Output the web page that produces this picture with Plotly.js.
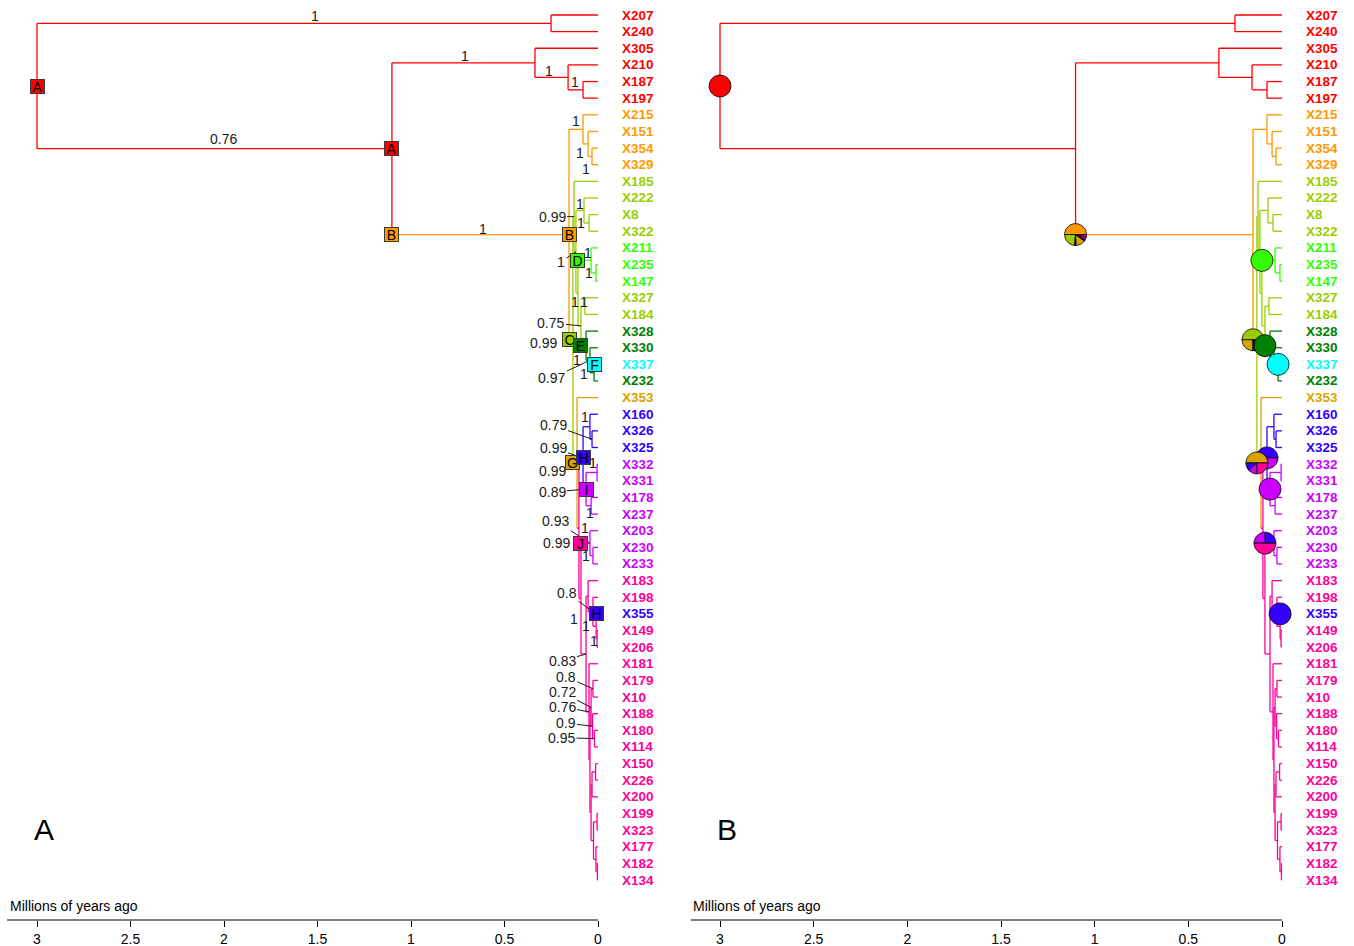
<!DOCTYPE html>
<html><head><meta charset="utf-8">
<script src="https://cdn.plot.ly/plotly-3.0.1.min.js"></script>
<style>html,body{margin:0;padding:0;background:#fff;} #chart{width:1354px;height:946px;}</style>
</head><body><div id="chart"></div>
<script>
// ================= DATA =================
const tipLabels = ['X207','X240','X305','X210','X187','X197','X215','X151','X354','X329','X185','X222','X8','X322','X211','X235','X147','X327','X184','X328','X330','X337','X232','X353','X160','X326','X325','X332','X331','X178','X237','X203','X230','X233','X183','X198','X355','X149','X206','X181','X179','X10','X188','X180','X114','X150','X226','X200','X199','X323','X177','X182','X134'];
const tipStates = ['A','A','A','A','A','A','B','B','B','B','C','C','C','C','D','D','D','C','C','E','E','F','E','G','H','H','H','I','I','I','I','I','I','I','J','J','H','J','J','J','J','J','J','J','J','J','J','J','J','J','J','J','J'];
const tipParents = ['n207','n207','nRed','nRed2','nRed3','nRed3','nOr','nOr2','nOr3','nOr3','nYG','nYc1','nYc1b','nYc1b','nD','nDb','nDb','nYc2','nYc2','nE','nE2','nF','nF','nG','nBl','nBl2','nBl2','nP1a','nP1a','nP1b','nP1b','nPu','nPu2','nPu2','nPa','nPa1','nPa2','nPa3','nPa3','nPb','nQ1a','nQ1a','nQ1b','nQ1c','nQ1c','nR1a','nR1a','nR1','nR2a','nR2a','nR2b','nR2c','nR2c'];

const nodeNames   = ['root','n207','n2','nRed','nRed2','nRed3','nB','nOr','nOr2','nOr3','nC','nYG','nY1','nYc1','nYc1b','nY2','nD','nDb','nY3','nYc2','nE','nE2','nF','nG','nK','nH','nBl','nBl2','nP1','nP1a','nP1b','nL','nPu','nPu2','nP0','nPa','nPa1','nPa2','nPa3','nPb','nPb1','nQ1','nQ1a','nQ1b','nQ1c','nR','nR1','nR1a','nR2','nR2a','nR2b','nR2c'];
const nodeParents = [null,'root','root','n2','nRed','nRed2','n2','nB','nOr','nOr2','nB','nC','nYG','nY1','nYc1','nY1','nY2','nD','nY2','nY3','nY3','nE','nE2','nC','nG','nK','nH','nBl','nH','nP1','nP1','nK','nL','nPu','nL','nP0','nPa','nPa1','nPa2','nP0','nPb','nPb1','nQ1','nQ1','nQ1b','nPb1','nR','nR1','nR','nR2','nR2','nR2b'];
const nodeAges    = [3.000,0.251,1.102,0.337,0.160,0.080,0.155,0.080,0.053,0.032,0.134,0.128,0.118,0.075,0.048,0.107,0.037,0.011,0.091,0.070,0.064,0.043,0.021,0.112,0.102,0.080,0.043,0.032,0.064,0.005,0.037,0.091,0.043,0.027,0.064,0.053,0.027,0.010,0.005,0.048,0.043,0.037,0.027,0.029,0.019,0.037,0.032,0.013,0.024,0.005,0.011,0.003];
const nodeStates  = ['A','A','A','A','A','A','B','B','B','B','C','C','C','C','C','C','D','D','C','C','E','E','E','G','J','H','H','H','I','I','I','J','I','I','J','J','J','J','J','J','J','J','J','J','J','J','J','J','J','J','J','J'];

const stateLetters = ['A','B','C','D','E','F','G','H','I','J'];
const stateColors  = ['#FF0000','#FF9900','#9ACD00','#33FF00','#007F00','#00FFFF','#D9A400','#3300FF','#CC00FF','#FF0099'];

// posterior support values
const supportNodes  = ['n207','n2','nRed','nRed2','nRed3','nB','nOr','nOr2','nOr3','nYG','nYc1','nYc1b','nY1','nD','nDb','nY2','nYc2','nY3','nC','nE','nE2','nF','nBl','nBl2','nH','nG','nP1a','nP1','nP1b','nPu','nPu','nK','nPu2','nPa1','nL','nPa2','nPa3','nP0','nQ1a','nQ1','nPb','nQ1b','nQ1c'];
const supportValues = ['1','0.76','1','1','1','1','1','1','1','0.99','1','1','1','1','1','1','1','0.75','0.99','1','0.97','1','1','0.79','0.99','0.99','1','0.89','1','1','0.93','0.99','1','0.8','1','1','1','0.83','0.8','0.72','0.76','0.9','0.95'];

// ancestral-state box labels (panel A)
const boxLetters = ['A','A','B','B','C','D','E','F','G','H','I','J','H'];
const boxNodes   = ['root','n2','nB','nB','nC','nD','nE','X337','nG','nH','nP1','nPu','X355'];
const boxCorner  = [false,false,true,false,true,true,true,true,true,false,false,true,true];

// ancestral-state pies (panel B), probabilities for states A..J
const pieNodes  = ['root','nB','nD','nC','nE','X337','nH','nG','nP1','nPu','X355'];
const pieCorner = [false,true,true,true,true,true,false,true,false,true,true];
const pieProbs  = [
  [1,0,0,0,0,0,0,0,0,0],
  [0,0.5,0.24,0.01,0.01,0,0.14,0.02,0.04,0.04],
  [0,0,0,1,0,0,0,0,0,0],
  [0,0,0.5,0,0,0,0.25,0.04,0.09,0.12],
  [0,0,0,0,1,0,0,0,0,0],
  [0,0,0,0,0,1,0,0,0,0],
  [0,0,0,0,0,0,0,0.5,0.5,0],
  [0,0,0,0,0,0,0.5,0.12,0.13,0.25],
  [0,0,0,0,0,0,0,0,1,0],
  [0,0,0,0,0,0,0,0.25,0.25,0.5],
  [0,0,0,0,0,0,0,1,0,0]
];

const tickVals  = [0,0.5,1,1.5,2,2.5,3];
const tickTexts = ['0','0.5','1','1.5','2','2.5','3'];
const axisTitle = 'Millions of years ago';
const panelLetters = ['A','B'];

// ================= LAYOUT / STYLE =================
const W = 1354, H = 946;
const FONT = 'Liberation Sans, Arial, sans-serif';
const xRangeA = [3.19786, -0.42246], xRangeB = [3.22954, -0.38434];
const yRange = [54.403, -0.90171];
const axisGap = 26;
const plotH = H - axisGap;
const pxPerRow = plotH / (yRange[0] - yRange[1]);
const pxPerAgeB = (W / 2) / (xRangeB[0] - xRangeB[1]);
const pieRadius = 11;
// label offsets (px) for support values: [dx, dy, leader]
const supportPlace = [[-236,-7,0],[-168,-10,0],[-70,-7,0],[-19,-6,0],[-8,-8,0],[-86,-6,0],[-7,-8,0],[-8,9,0],[-6,13,0],[-22,0,1],[-4,-6,0],[-8,0,0],[-15,10,1],[-3,-7,0],[-7,0,0],[-3,9,0],[-1,-4,0],[-30,-3,1],[-29,3,0],[-9,14,0],[-38,18,1],[-10,1,0],[-5,-10,0],[-39,-14,1],[-30,-10,1],[-25,8,0],[-4,-9,0],[-34,3,1],[-1,7,0],[-5,-15,0],[-34,-22,1],[-22,15,0],[-7,0,0],[-26,-19,1],[-7,20,0],[-10,0,0],[-3,2,0],[-24,7,1],[-27,-12,1],[-29,-15,1],[-27,-5,1],[-27,-3,1],[-33,-1,1]];

// ================= TREE HELPERS =================
const nodeIdx = {}; nodeNames.forEach((n,i)=>nodeIdx[n]=i);
const tipIdx = {}; tipLabels.forEach((t,i)=>tipIdx[t]=i);
const children = {}; nodeNames.forEach(n=>children[n]=[]);
nodeParents.forEach((p,i)=>{ if(p) children[p].push(nodeNames[i]); });
tipParents.forEach((p,i)=>children[p].push(tipLabels[i]));
const isTip = n => n in tipIdx;
const ageOf = n => isTip(n) ? 0 : nodeAges[nodeIdx[n]];
const parentOf = n => isTip(n) ? tipParents[tipIdx[n]] : nodeParents[nodeIdx[n]];
const stateOf = n => isTip(n) ? tipStates[tipIdx[n]] : nodeStates[nodeIdx[n]];
const colorOf = s => stateColors[stateLetters.indexOf(s)];
const rowMemo = {};
function rowOf(n){
  if(isTip(n)) return tipIdx[n];
  if(rowMemo[n]!==undefined) return rowMemo[n];
  const ys = children[n].map(rowOf);
  return rowMemo[n] = ys.reduce((a,b)=>a+b,0)/ys.length;
}
function placeOf(n, corner){
  return {age: corner ? ageOf(parentOf(n)) : ageOf(n), row: rowOf(n)};
}

// ================= TRACES =================
const segs = {};
function addSeg(col, x0, x1, y0, y1){
  if(!segs[col]) segs[col] = {x:[], y:[]};
  segs[col].x.push(x0, x1, null); segs[col].y.push(y0, y1, null);
}
const allNames = nodeNames.concat(tipLabels);
allNames.forEach(n=>{
  const p = parentOf(n);
  if(p) addSeg(colorOf(stateOf(n)), ageOf(p), ageOf(n), rowOf(n), rowOf(n));
  if(!isTip(n)){
    const ys = children[n].map(rowOf);
    addSeg(colorOf(stateOf(n)), ageOf(n), ageOf(n), Math.min(...ys), Math.max(...ys));
  }
});
const data = [];
['x','x2'].forEach(ax=>{
  Object.keys(segs).forEach(col=>{
    data.push({type:'scatter', mode:'lines', x:segs[col].x, y:segs[col].y, xaxis:ax, yaxis:'y',
      line:{color:col, width:1.3}, hoverinfo:'skip', showlegend:false});
  });
});

// pies
pieNodes.forEach((n,i)=>{
  const pos = placeOf(n, pieCorner[i]);
  const probs = pieProbs[i];
  const R = pieRadius;
  const nz = probs.filter(p=>p>0).length;
  let start = 0;
  probs.forEach((p,k)=>{
    if(p<=0) return;
    const a0 = start*2*Math.PI, a1 = (start+p)*2*Math.PI; start += p;
    const steps = Math.max(4, Math.ceil((a1-a0)/(Math.PI/60)));
    const xs=[], ys=[];
    if(nz>1){ xs.push(pos.age); ys.push(pos.row); }
    for(let j=0;j<=steps;j++){
      const t = a0 + (a1-a0)*j/steps;
      xs.push(pos.age - R*Math.cos(t)/pxPerAgeB);
      ys.push(pos.row - R*Math.sin(t)/pxPerRow);
    }
    if(nz>1){ xs.push(pos.age); ys.push(pos.row); }
    data.push({type:'scatter', mode:'lines', x:xs, y:ys, xaxis:'x2', yaxis:'y', fill:'toself',
      fillcolor:stateColors[k], line:{color:'#000', width:0.8}, hoverinfo:'skip', showlegend:false});
  });
});

// ================= ANNOTATIONS =================
const annotations = [];
['x','x2'].forEach(ax=>{
  tipLabels.forEach((t,i)=>{
    annotations.push({xref:ax, yref:'y', x:0, y:i, xanchor:'left', yanchor:'middle', xshift:22,
      text:'<b>'+t+'</b>', showarrow:false, font:{family:FONT, size:13.5, color:colorOf(tipStates[i])}});
  });
});
supportNodes.forEach((n,i)=>{
  const [dx,dy,lead] = supportPlace[i];
  const base = {xref:'x', yref:'y', x:ageOf(n), y:rowOf(n), text:supportValues[i],
    font:{family:FONT, size:14, color:'#1a1a1a'}};
  if(lead){
    Object.assign(base, {showarrow:true, ax:dx, ay:dy, axref:'pixel', ayref:'pixel', arrowhead:0,
      arrowwidth:1, arrowcolor:'#1a1a1a', standoff:0, startstandoff:0});
  } else {
    Object.assign(base, {showarrow:false, xshift:dx, yshift:-dy});
  }
  annotations.push(base);
});
boxNodes.forEach((n,i)=>{
  const pos = placeOf(n, boxCorner[i]);
  annotations.push({xref:'x', yref:'y', x:pos.age, y:pos.row, text:boxLetters[i], showarrow:false,
    bgcolor:colorOf(boxLetters[i]), bordercolor:'#3a3a3a', borderwidth:1, borderpad:0, width:13, height:13,
    font:{family:FONT, size:14, color:'#000'}});
});
// axis titles + panel letters
annotations.push({xref:'paper', yref:'paper', x:8/W, y:40/H, xanchor:'left', yanchor:'middle', text:axisTitle, showarrow:false, font:{family:FONT, size:14, color:'#000'}});
annotations.push({xref:'paper', yref:'paper', x:691/W, y:40/H, xanchor:'left', yanchor:'middle', text:axisTitle, showarrow:false, font:{family:FONT, size:14, color:'#000'}});
annotations.push({xref:'paper', yref:'paper', x:44/W, y:1-829/H, xanchor:'center', yanchor:'middle', text:panelLetters[0], showarrow:false, font:{family:FONT, size:30, color:'#000'}});
annotations.push({xref:'paper', yref:'paper', x:727/W, y:1-829/H, xanchor:'center', yanchor:'middle', text:panelLetters[1], showarrow:false, font:{family:FONT, size:30, color:'#000'}});

const shapes = [
  {type:'line', xref:'x', yref:'paper', x0:3.16, x1:0, y0:axisGap/H, y1:axisGap/H, line:{color:'#000', width:1}},
  {type:'line', xref:'x2', yref:'paper', x0:3.155, x1:0, y0:axisGap/H, y1:axisGap/H, line:{color:'#000', width:1}}
];

const xaxisBase = {tickvals:tickVals, ticktext:tickTexts, ticks:'outside', ticklen:6, tickwidth:1, tickcolor:'#000',
  showgrid:false, zeroline:false, showline:false, anchor:'y', fixedrange:true,
  tickfont:{family:FONT, size:14, color:'#000'}};
const layout = {
  width:W, height:H, margin:{l:0,r:0,t:0,b:0}, paper_bgcolor:'#fff', plot_bgcolor:'rgba(0,0,0,0)',
  font:{family:FONT}, showlegend:false, hovermode:false,
  xaxis:Object.assign({}, xaxisBase, {domain:[0,0.5], range:xRangeA}),
  xaxis2:Object.assign({}, xaxisBase, {domain:[0.5,1], range:xRangeB}),
  yaxis:{domain:[axisGap/H,1], range:yRange, visible:false, fixedrange:true},
  annotations:annotations, shapes:shapes
};
Plotly.newPlot('chart', data, layout, {staticPlot:true, displayModeBar:false});
</script>
</body></html>
